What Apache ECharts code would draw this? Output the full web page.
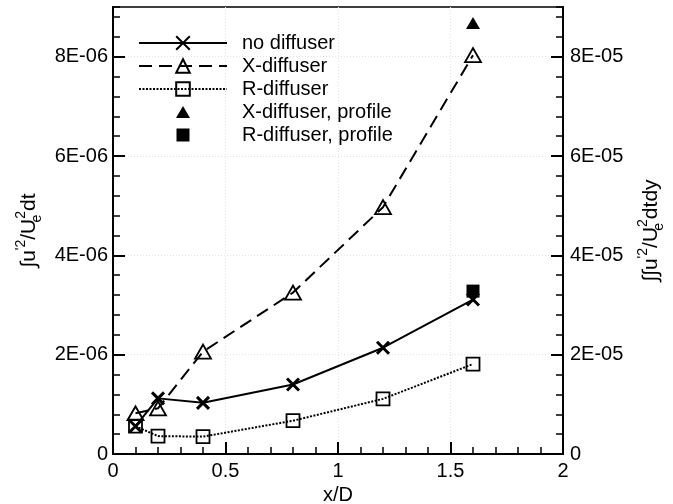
<!DOCTYPE html>
<html><head><meta charset="utf-8">
<script src="https://cdn.jsdelivr.net/npm/echarts@6/dist/echarts.min.js"></script>
<style>html,body{margin:0;padding:0;background:#fff}#c{width:673px;height:504px}</style>
</head><body><div id="c"></div>
<script>
// ---- data ----
const xPositions = [0.1, 0.2, 0.4, 0.8, 1.2, 1.6];
const noDiffuser = [0.56e-6, 1.12e-6, 1.03e-6, 1.40e-6, 2.14e-6, 3.11e-6];
const xDiffuser  = [0.82e-6, 0.92e-6, 2.06e-6, 3.25e-6, 4.97e-6, 8.03e-6];
const rDiffuser  = [0.56e-6, 0.36e-6, 0.35e-6, 0.67e-6, 1.11e-6, 1.81e-6];
const profileX = [1.6];
const xDiffuserProfile = [8.68e-5];
const rDiffuserProfile = [3.28e-5];
const xTickLabels = ['0', '0.5', '1', '1.5', '2'];
const leftTickLabels = ['0', '2E-06', '4E-06', '6E-06', '8E-06'];
const rightTickLabels = ['0', '2E-05', '4E-05', '6E-05', '8E-05'];
const seriesNames = ['no diffuser', 'X-diffuser', 'R-diffuser', 'X-diffuser, profile', 'R-diffuser, profile'];

// ---- chart ----
const font = 'Liberation Sans, Arial, sans-serif';
const black = '#000';
const clear = 'rgba(255,255,255,0)';
function pick(labels, step) {
  return function (v) {
    const k = v / step, i = Math.round(k);
    return (Math.abs(k - i) < 1e-6 && labels[i] !== undefined) ? labels[i] : '';
  };
}
const labelStyle = { fontSize: 20, fontFamily: font, color: black };
const nameRich = {
  n:   { fontSize: 21, lineHeight: 30, fontFamily: font, color: black },
  sup: { fontSize: 14, lineHeight: 15, verticalAlign: 'top', fontFamily: font, color: black },
  sub: { fontSize: 14, lineHeight: 15, verticalAlign: 'bottom', fontFamily: font, color: black, width: 0.01, align: 'left' }
};
const gridLine = { show: true, showMinLine: false, showMaxLine: false, lineStyle: { type: [1, 2], color: '#e2e2e2', width: 1 } };
function majorAxis(extra) {
  return Object.assign({
    type: 'value',
    axisLine: { show: true, lineStyle: { color: black, width: 2 } },
    axisTick: { show: true, inside: true, length: 12, lineStyle: { color: black, width: 2 } },
    splitLine: gridLine
  }, extra);
}
function minorAxis(extra) {
  return Object.assign({
    type: 'value',
    axisLine: { show: false },
    axisTick: { show: true, inside: true, length: 7, lineStyle: { color: black, width: 1.5 } },
    axisLabel: { show: false },
    splitLine: { show: false }
  }, extra);
}
const pairs = ys => xPositions.map((x, i) => [x, ys[i]]);

// legend icons for the single-marker entries (bounding box = legend item box, marker centred)
const legendTriangle = 'path://M0,0M88,15M44,1.5L51,13.5L37,13.5Z';
const legendSquare = 'path://M0,0M88,15M37.5,1L50.5,1L50.5,14L37.5,14Z';

const chart = echarts.init(document.getElementById('c'), null, { renderer: 'canvas' });
chart.setOption({
  animation: false,
  backgroundColor: '#fff',
  grid: { left: 113, right: 110, top: 7, bottom: 50, show: true, borderColor: black, borderWidth: 1.5, containLabel: false, outerBoundsMode: 'none' },
  legend: {
    orient: 'vertical', left: 138, top: 33, padding: 0, itemWidth: 88, itemHeight: 17, itemGap: 3,
    selectedMode: false,
    data: [
      { name: seriesNames[0] },
      { name: seriesNames[1] },
      { name: seriesNames[2] },
      { name: seriesNames[3], icon: legendTriangle },
      { name: seriesNames[4], icon: legendSquare }
    ],
    textStyle: { fontSize: 20, fontFamily: font, color: black, lineHeight: 20, padding: [0, 0, 0, 10] }
  },
  xAxis: [
    majorAxis({
      position: 'bottom', min: 0, max: 2, interval: 0.5,
      axisLabel: Object.assign({ margin: 7, formatter: pick(xTickLabels, 0.5) }, labelStyle),
      name: 'x/D', nameLocation: 'middle', nameGap: 31, nameTextStyle: labelStyle
    }),
    minorAxis({ position: 'bottom', min: 0, max: 2, interval: 0.1 })
  ],
  yAxis: [
    majorAxis({
      position: 'left', min: 0, max: 9e-6, interval: 2e-6,
      axisLabel: Object.assign({ margin: 5, showMaxLabel: false, formatter: pick(leftTickLabels, 2e-6) }, labelStyle),
      name: "{n|∫u}{sup|'2}{n|/U}{sub|e}{sup|2}{n|dt}", nameLocation: 'middle', nameRotate: 90, nameGap: 68,
      nameTextStyle: { rich: nameRich }
    }),
    minorAxis({ position: 'left', min: 0, max: 9e-6, interval: 0.4e-6 }),
    majorAxis({
      position: 'right', min: 0, max: 9e-5, interval: 2e-5,
      axisLabel: Object.assign({ margin: 7, showMaxLabel: false, formatter: pick(rightTickLabels, 2e-5) }, labelStyle),
      splitLine: { show: false },
      name: "{n|∫∫u}{sup|'2}{n|/U}{sub|e}{sup|2}{n|dtdy}", nameLocation: 'middle', nameRotate: 90, nameGap: 73,
      nameTextStyle: { rich: nameRich }
    }),
    minorAxis({ position: 'right', min: 0, max: 9e-5, interval: 0.4e-5 })
  ],
  series: [
    {
      name: seriesNames[0], type: 'line', xAxisIndex: 0, yAxisIndex: 0, data: pairs(noDiffuser),
      symbol: 'path://M0,0L10,10M10,0L0,10', symbolSize: 12,
      lineStyle: { color: black, width: 2, type: 'solid' },
      itemStyle: { color: clear, borderColor: black, borderWidth: 3 }, z: 3
    },
    {
      name: seriesNames[1], type: 'line', xAxisIndex: 0, yAxisIndex: 0, data: pairs(xDiffuser),
      symbol: 'triangle', symbolSize: [16, 14],
      lineStyle: { color: black, width: 2, type: [13, 7] },
      itemStyle: { color: clear, borderColor: black, borderWidth: 1.8 }, z: 3
    },
    {
      name: seriesNames[2], type: 'line', xAxisIndex: 0, yAxisIndex: 0, data: pairs(rDiffuser),
      symbol: 'rect', symbolSize: 13,
      lineStyle: { color: black, width: 2, type: [2, 1.5] },
      itemStyle: { color: clear, borderColor: black, borderWidth: 1.8 }, z: 3
    },
    {
      name: seriesNames[3], type: 'scatter', xAxisIndex: 0, yAxisIndex: 2,
      data: profileX.map((x, i) => [x, xDiffuserProfile[i]]),
      symbol: 'triangle', symbolSize: [14, 12], itemStyle: { color: black, opacity: 1 }, z: 4
    },
    {
      name: seriesNames[4], type: 'scatter', xAxisIndex: 0, yAxisIndex: 2,
      data: profileX.map((x, i) => [x, rDiffuserProfile[i]]),
      symbol: 'rect', symbolSize: 13, itemStyle: { color: black, opacity: 1 }, z: 4
    }
  ]
});
</script>
</body></html>
